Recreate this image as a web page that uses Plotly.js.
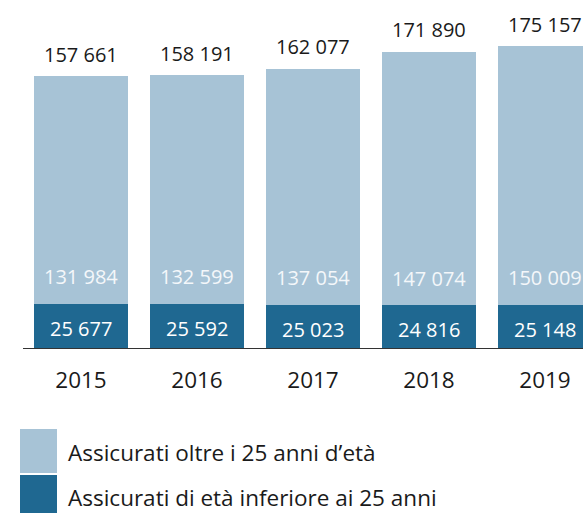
<!DOCTYPE html>
<html>
<head>
<meta charset="utf-8">
<script src="https://cdn.plot.ly/plotly-3.0.1.min.js"></script>
<style>html,body{margin:0;padding:0;background:#fff;}</style>
</head>
<body>
<div id="chart" style="width:583px;height:513px;"></div>
<script>
const years = ["2015", "2016", "2017", "2018", "2019"];
const under25 = [25677, 25592, 25023, 24816, 25148];
const over25 = [131984, 132599, 137054, 147074, 150009];
const totals = [157661, 158191, 162077, 171890, 175157];
const seriesNames = ["Assicurati oltre i 25 anni d\u2019et\u00e0", "Assicurati di et\u00e0 inferiore ai 25 anni"];

const LIGHT = "#a7c3d6";
const DARK = "#1f6891";
const FONT = "Open Sans, Noto Sans, sans-serif";
const fmt = v => String(v).replace(/\B(?=(\d{3})+(?!\d))/g, " ");

const W = 583, H = 513, L = 23, R = 0, T = 0, B = 165;
const plotW = W - L - R, plotH = H - T - B;
const px2x = px => (px - L) / plotW;
const py2y = py => (H - B - py) / plotH;

const traces = [
  {type: "bar", x: years, y: under25, name: seriesNames[1], marker: {color: DARK}, hoverinfo: "none", textposition: "none"},
  {type: "bar", x: years, y: over25, name: seriesNames[0], marker: {color: LIGHT}, hoverinfo: "none", textposition: "none"}
];

const annotations = [];
years.forEach((yr, i) => {
  annotations.push({x: i, y: totals[i], xref: "x", yref: "y", text: fmt(totals[i]), showarrow: false,
    yanchor: "middle", yshift: 22, font: {family: FONT, size: 20, color: "#1a1a1a"}});
  annotations.push({x: i, y: under25[i], xref: "x", yref: "y", text: fmt(over25[i]), showarrow: false,
    yanchor: "middle", yshift: 27, font: {family: FONT, size: 20, color: "#f4f7fa"}});
  annotations.push({x: i, y: under25[i] / 2, xref: "x", yref: "y", text: fmt(under25[i]), showarrow: false,
    yanchor: "middle", yshift: -3, font: {family: FONT, size: 20, color: "#ffffff"}});
});

// custom legend
const shapes = [
  {type: "rect", xref: "paper", yref: "paper", x0: px2x(20), x1: px2x(57), y0: py2y(473), y1: py2y(429), fillcolor: LIGHT, line: {width: 0}},
  {type: "rect", xref: "paper", yref: "paper", x0: px2x(20), x1: px2x(57), y0: py2y(520), y1: py2y(475), fillcolor: DARK, line: {width: 0}}
];
annotations.push({xref: "paper", yref: "paper", x: px2x(66), y: py2y(452), xanchor: "left", yanchor: "middle",
  text: seriesNames[0], showarrow: false, font: {family: FONT, size: 22.5, color: "#1a1a1a"}});
annotations.push({xref: "paper", yref: "paper", x: px2x(66), y: py2y(497), xanchor: "left", yanchor: "middle",
  text: seriesNames[1], showarrow: false, font: {family: FONT, size: 22.5, color: "#1a1a1a"}});

const layout = {
  width: W, height: H,
  margin: {l: L, r: R, t: T, b: B, pad: 0},
  paper_bgcolor: "#fff", plot_bgcolor: "#fff",
  barmode: "stack", bargap: 0.19,
  showlegend: false,
  font: {family: FONT},
  xaxis: {type: "category", range: [-0.5, -0.5 + plotW / 116], showline: true, linecolor: "#333", linewidth: 1,
    ticks: "", showgrid: false, zeroline: false, layer: "below traces", ticklabelstandoff: 12,
    tickfont: {family: FONT, size: 22.5, color: "#1a1a1a"}, fixedrange: true},
  yaxis: {range: [0, plotH * 580], showgrid: false, zeroline: false, showline: false, showticklabels: false,
    ticks: "", fixedrange: true},
  annotations: annotations,
  shapes: shapes
};

Plotly.newPlot("chart", traces, layout, {displayModeBar: false, staticPlot: true});
</script>
</body>
</html>
